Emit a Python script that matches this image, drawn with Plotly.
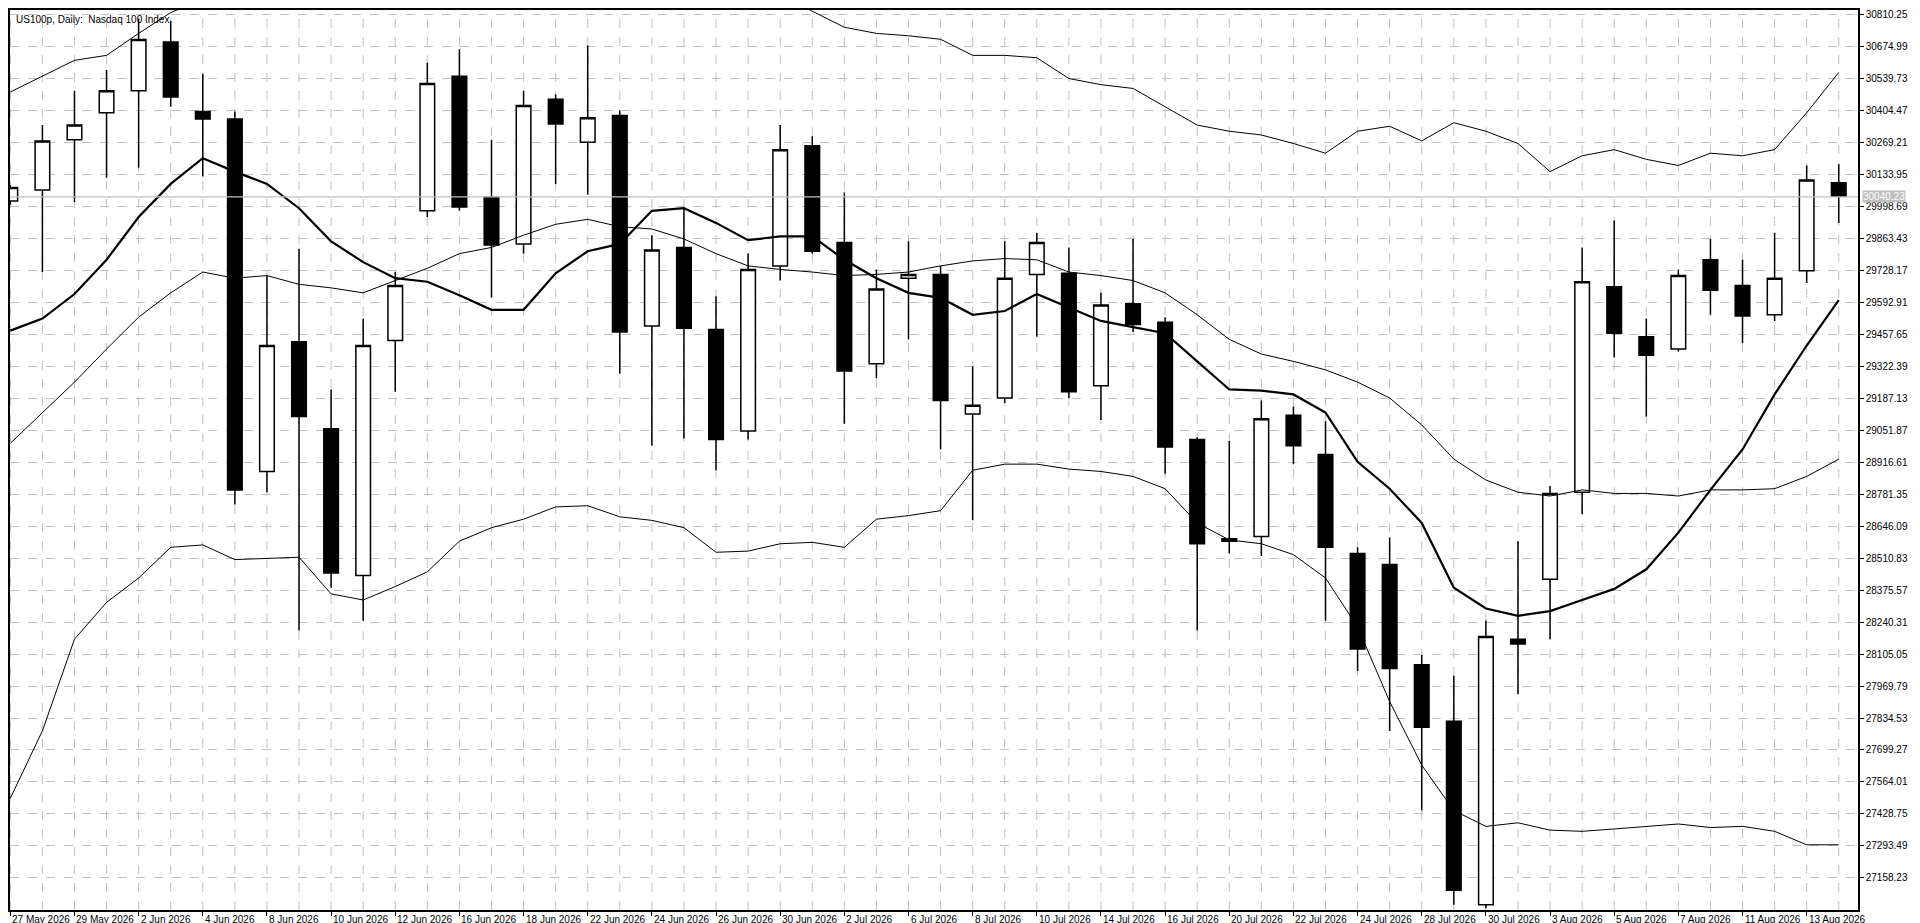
import plotly.graph_objects as go

dates = ["27 May 2026","28 May 2026","29 May 2026","1 Jun 2026","2 Jun 2026","3 Jun 2026","4 Jun 2026","5 Jun 2026",
         "8 Jun 2026","9 Jun 2026","10 Jun 2026","11 Jun 2026","12 Jun 2026","15 Jun 2026","16 Jun 2026","17 Jun 2026",
         "18 Jun 2026","19 Jun 2026","22 Jun 2026","23 Jun 2026","24 Jun 2026","25 Jun 2026","26 Jun 2026","29 Jun 2026",
         "30 Jun 2026","1 Jul 2026","2 Jul 2026","3 Jul 2026","6 Jul 2026","7 Jul 2026","8 Jul 2026","9 Jul 2026",
         "10 Jul 2026","13 Jul 2026","14 Jul 2026","15 Jul 2026","16 Jul 2026","17 Jul 2026","20 Jul 2026","21 Jul 2026",
         "22 Jul 2026","23 Jul 2026","24 Jul 2026","27 Jul 2026","28 Jul 2026","29 Jul 2026","30 Jul 2026","31 Jul 2026",
         "3 Aug 2026","4 Aug 2026","5 Aug 2026","6 Aug 2026","7 Aug 2026","10 Aug 2026","11 Aug 2026","12 Aug 2026",
         "13 Aug 2026","14 Aug 2026"]

opens  = [30023,30069,30282,30396,30489,30696,30401,30370,28878,29427,29059,28438,29432,29981,30551,30038,
          29841,30453,30271,30385,29494,29826,29479,29049,29748,30256,29847,29334,29696,29712,29121,29189,
          29712,29717,29241,29588,29510,29013,28583,28603,29116,28950,28531,28484,28060,27821,27044,28168,
          28422,28790,29660,29448,29396,29774,29665,29541,29727,30100]
highs  = [30090,30344,30489,30577,30795,30784,30561,30401,29707,29821,29225,29525,29722,30608,30665,30282,
          30489,30473,30681,30406,29878,29992,29619,29800,30344,30297,30059,29733,29852,29748,29323,29852,
          29888,29826,29634,29862,29531,29023,29007,29178,29153,29090,28557,28598,28101,28013,28246,28583,
          28816,29826,29940,29525,29733,29862,29774,29888,30173,30178]
lows   = [30007,29722,30018,30121,30163,30422,30126,28738,28790,28205,28386,28246,29215,29955,29981,29614,
          29800,30095,30049,29292,28987,29018,28883,29013,29686,29800,29080,29272,29437,28971,28671,29168,
          29448,29189,29096,29468,28868,28205,28531,28520,28909,28246,28034,27780,27443,27044,27029,27935,
          28168,28697,29360,29111,29386,29541,29422,29515,29676,29930]
closes = [30080,30277,30344,30489,30706,30463,30370,28800,29411,29111,28448,29411,29665,30520,29997,29836,
          30427,30349,30375,29468,29815,29484,29013,29733,30240,29810,29303,29650,29712,29178,29158,29696,
          29847,29215,29582,29500,28982,28572,28593,29101,28987,28557,28127,28044,27795,27106,28179,28148,
          28785,29681,29463,29370,29707,29645,29536,29696,30111,30043]

ma = [29474,29525,29629,29774,29955,30095,30204,30147,30095,29992,29852,29764,29696,29681,29624,29562,
      29562,29717,29810,29841,29981,29992,29930,29857,29873,29873,29774,29696,29634,29613,29541,29557,
      29629,29572,29515,29489,29463,29344,29225,29220,29204,29127,28919,28805,28660,28386,28298,28267,
      28287,28334,28381,28464,28619,28800,28971,29204,29411,29603]
bb_mid = [28997,29127,29256,29396,29531,29634,29722,29696,29707,29670,29655,29634,29686,29738,29800,29826,
          29878,29924,29945,29914,29904,29862,29800,29748,29733,29722,29707,29712,29722,29748,29769,29779,
          29774,29722,29707,29686,29634,29541,29437,29375,29344,29308,29256,29189,29075,28930,28842,28790,
          28774,28800,28785,28785,28774,28800,28800,28805,28857,28930]
bb_up = [30484,30551,30618,30639,30732,30820,30877,30888,30903,30914,30950,30934,30981,31022,31017,31012,
         31079,31121,31157,31142,31136,31085,31064,30955,30893,30826,30758,30732,30722,30707,30639,30639,
         30629,30541,30515,30499,30422,30344,30318,30302,30266,30225,30318,30339,30277,30354,30318,30266,
         30147,30214,30240,30199,30173,30225,30214,30240,30396,30567]
bb_low = [27495,27780,28168,28324,28427,28557,28567,28505,28510,28515,28360,28334,28391,28453,28583,28640,
          28676,28728,28733,28686,28671,28640,28536,28541,28572,28578,28557,28676,28691,28712,28883,28909,
          28909,28888,28878,28857,28805,28660,28588,28572,28526,28427,28220,27904,27635,27443,27376,27391,
          27360,27355,27365,27376,27386,27371,27376,27355,27298,27298]

y_ticks = [27158.23 + 135.26 * k for k in range(28)]
current_price = 30040.23

x = list(range(len(dates)))
fig = go.Figure()
for s in (bb_up, bb_mid, bb_low):
    fig.add_trace(go.Scatter(x=x, y=s, mode="lines", line=dict(color="black", width=1), hoverinfo="skip"))
fig.add_trace(go.Scatter(x=x, y=ma, mode="lines", line=dict(color="black", width=2.2), hoverinfo="skip"))
fig.add_trace(go.Candlestick(x=x, open=opens, high=highs, low=lows, close=closes,
                             increasing=dict(line=dict(color="black", width=1.5), fillcolor="white"),
                             decreasing=dict(line=dict(color="black", width=1.5), fillcolor="black"),
                             whiskerwidth=0))

fig.add_hline(y=current_price, line=dict(color="#c0c0c0", width=1.2))

font = dict(family="Liberation Sans", size=10, color="black")
ann = [dict(x=i, y=0, xref="x", yref="paper", yshift=-2, text=dates[i], showarrow=False,
            xanchor="left", yanchor="top", font=font) for i in range(0, len(dates), 2)]
ann.append(dict(x=0.002, y=0.998, xref="paper", yref="paper", text="US100p, Daily:  Nasdaq 100 Index",
                showarrow=False, xanchor="left", yanchor="top", font=font))
ann.append(dict(x=1, y=current_price, xref="paper", yref="y", xshift=4, text=f"{current_price:.2f}",
                showarrow=False, xanchor="left", yanchor="middle", bgcolor="#c0c0c0",
                font=dict(family="Liberation Sans", size=10, color="white"), borderpad=0))

fig.update_layout(
    width=1920, height=923, paper_bgcolor="white", plot_bgcolor="white",
    margin=dict(l=2, r=70, t=2, b=21, autoexpand=False), showlegend=False, annotations=ann, boxgap=0.35,
    xaxis=dict(range=[-0.01, 57.6], tickmode="array", tickvals=list(range(0, len(dates), 2)),
               showticklabels=False, ticks="outside", ticklen=4, tickcolor="black",
               showgrid=False, rangeslider=dict(visible=False),
               showline=True, linecolor="black", linewidth=1.5, mirror=True, zeroline=False),
    yaxis=dict(range=[27022, 30831], side="right", tickvals=y_ticks,
               ticktext=[f"{v:.2f}" for v in y_ticks], ticks="outside", ticklen=4, tickcolor="black",
               tickfont=font, gridcolor="#c0c0c0", griddash="dash", gridwidth=1,
               showline=True, linecolor="black", linewidth=1.5, mirror=True, zeroline=False),
)
for i in x:
    fig.add_vline(x=i, line=dict(color="#c0c0c0", width=1, dash="dash"), layer="below")
fig.write_html("out.html")
